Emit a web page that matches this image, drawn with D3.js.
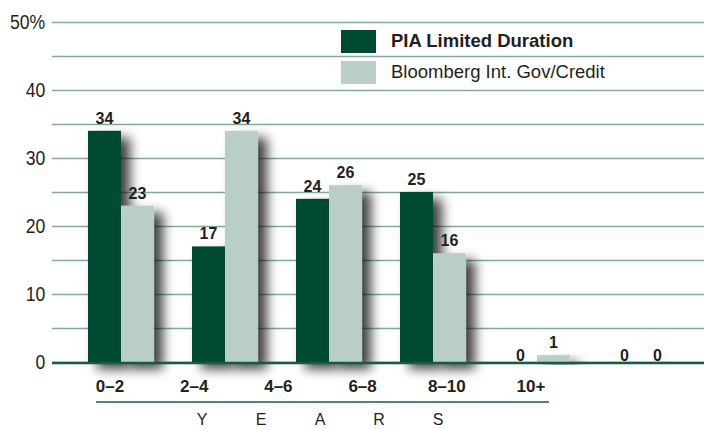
<!DOCTYPE html>
<html>
<head>
<meta charset="utf-8">
<script src="https://cdn.jsdelivr.net/npm/d3@7"></script>
<style>
  body { margin: 0; background: #fff; }
  svg { display: block; }
  text { fill: #231f20; }
</style>
</head>
<body>
<svg width="704" height="430"></svg>
<script>

// Data
var categories = ["0–2", "2–4", "4–6", "6–8", "8–10", "10+"];
var piaValues = [34, 17, 24, 25, 0, 0];
var bbgValues = [23, 34, 26, 16, 1, 0];
var seriesNames = ["PIA Limited Duration", "Bloomberg Int. Gov/Credit"];
var gridTicks = [0, 5, 10, 15, 20, 25, 30, 35, 40, 45, 50];
var yearLetters = ["Y", "E", "A", "R", "S"];

var darkGreen = "#004a33";
var lightGreen = "#b8cec6";
var gridColor = "#82a999";

var svg = d3.select("svg");

// Shadow behind the bars
var defs = svg.append("defs");
defs.append("filter")
    .attr("id", "shadow")
    .attr("x", "-30%").attr("y", "-10%")
    .attr("width", "200%").attr("height", "150%")
    .append("feDropShadow")
    .attr("dx", 9)
    .attr("dy", 7)
    .attr("stdDeviation", 6)
    .attr("flood-color", "#000")
    .attr("flood-opacity", 0.75);

// Scales
var y = d3.scaleLinear()
    .domain([0, 50])
    .range([362, 22]);

var x = d3.scaleBand()
    .domain(categories)
    .range([52, 710])
    .paddingInner(0.365)
    .paddingOuter(0.346);

var xInner = d3.scaleBand()
    .domain([0, 1])
    .range([0, x.bandwidth()]);

// Gridlines + y tick labels
var yAxis = d3.axisLeft(y)
    .tickValues(gridTicks)
    .tickSize(-(704 - 52))
    .tickPadding(8)
    .tickFormat(function (d) {
        if (d === 50) return "50%";
        return d % 10 === 0 ? d : "";
    });

var gAxis = svg.append("g")
    .attr("transform", "translate(52,0)")
    .call(yAxis);

gAxis.select(".domain").remove();
gAxis.selectAll(".tick line")
    .attr("stroke", gridColor)
    .attr("stroke-width", 1.5);
// condensed look of the original typeface
gAxis.selectAll(".tick text")
    .style("font-family", "'Liberation Sans', Arial, sans-serif")
    .style("font-size", "21px")
    .attr("transform", "scale(0.84,1)")
    .attr("fill", "#231f20");

// Legend (drawn over the grid)
var legend = svg.append("g");
var legendColors = [darkGreen, lightGreen];
var legendY = d3.scalePoint().domain([0, 1]).range([30, 61]);

legend.selectAll("rect")
    .data(seriesNames)
    .enter().append("rect")
    .attr("x", 341)
    .attr("y", function (d, i) { return legendY(i); })
    .attr("width", 35)
    .attr("height", 23)
    .attr("fill", function (d, i) { return legendColors[i]; });

legend.selectAll("text")
    .data(seriesNames)
    .enter().append("text")
    .attr("x", 391)
    .attr("y", function (d, i) { return legendY(i) + 17; })
    .style("font-family", "'Liberation Sans', Arial, sans-serif")
    .style("font-size", "18.5px")
    .style("font-weight", function (d, i) { return i === 0 ? "bold" : "normal"; })
    .text(function (d) { return d; });

// Bars
var rows = categories.map(function (c, i) {
    return { cat: c, values: [piaValues[i], bbgValues[i]] };
});

var groups = svg.selectAll(".group")
    .data(rows)
    .enter().append("g")
    .attr("class", "group")
    .attr("transform", function (d) { return "translate(" + x(d.cat) + ",0)"; });

groups.selectAll("rect")
    .data(function (d) { return d.values; })
    .enter().append("rect")
    .attr("x", function (d, i) { return xInner(i); })
    .attr("y", function (d) { return y(d); })
    .attr("width", xInner.bandwidth())
    .attr("height", function (d) { return y(0) - y(d); })
    .attr("fill", function (d, i) { return legendColors[i]; })
    .attr("filter", "url(#shadow)")
    .style("display", function (d) { return d > 0 ? null : "none"; });

// Baseline
svg.append("line")
    .attr("x1", 52).attr("x2", 704)
    .attr("y1", y(0) + 1).attr("y2", y(0) + 1)
    .attr("stroke", "#1a5a40")
    .attr("stroke-width", 2.5);

// Value labels
groups.selectAll("text")
    .data(function (d) { return d.values; })
    .enter().append("text")
    .attr("x", function (d, i) { return xInner(i) + xInner.bandwidth() / 2; })
    .attr("y", function (d) { return d > 0 ? y(d) - 7 : y(0) - 1; })
    .attr("text-anchor", "middle")
    .style("font-family", "'Liberation Sans', Arial, sans-serif")
    .style("font-size", "16px")
    .style("font-weight", "bold")
    .text(function (d) { return d; });

// Category labels (set off to the left of the bars, as in the original)
var labelX = d3.scalePoint()
    .domain(categories)
    .range([110, 531]);

svg.selectAll(".cat-label")
    .data(categories)
    .enter().append("text")
    .attr("class", "cat-label")
    .attr("x", function (d) { return labelX(d); })
    .attr("y", 392)
    .attr("text-anchor", "middle")
    .style("font-family", "'Liberation Sans', Arial, sans-serif")
    .style("font-size", "17px")
    .style("font-weight", "bold")
    .text(function (d) { return d; });

svg.append("line")
    .attr("x1", 96).attr("x2", 549)
    .attr("y1", 402).attr("y2", 402)
    .attr("stroke", "#1a5a40")
    .attr("stroke-width", 1.5);

// Y E A R S
var letterX = d3.scalePoint()
    .domain(yearLetters)
    .range([202, 438]);

svg.selectAll(".year-letter")
    .data(yearLetters)
    .enter().append("text")
    .attr("class", "year-letter")
    .attr("x", function (d) { return letterX(d); })
    .attr("y", 425)
    .attr("text-anchor", "middle")
    .style("font-family", "'Liberation Sans', Arial, sans-serif")
    .style("font-size", "16px")
    .text(function (d) { return d; });

</script>
</body>
</html>
